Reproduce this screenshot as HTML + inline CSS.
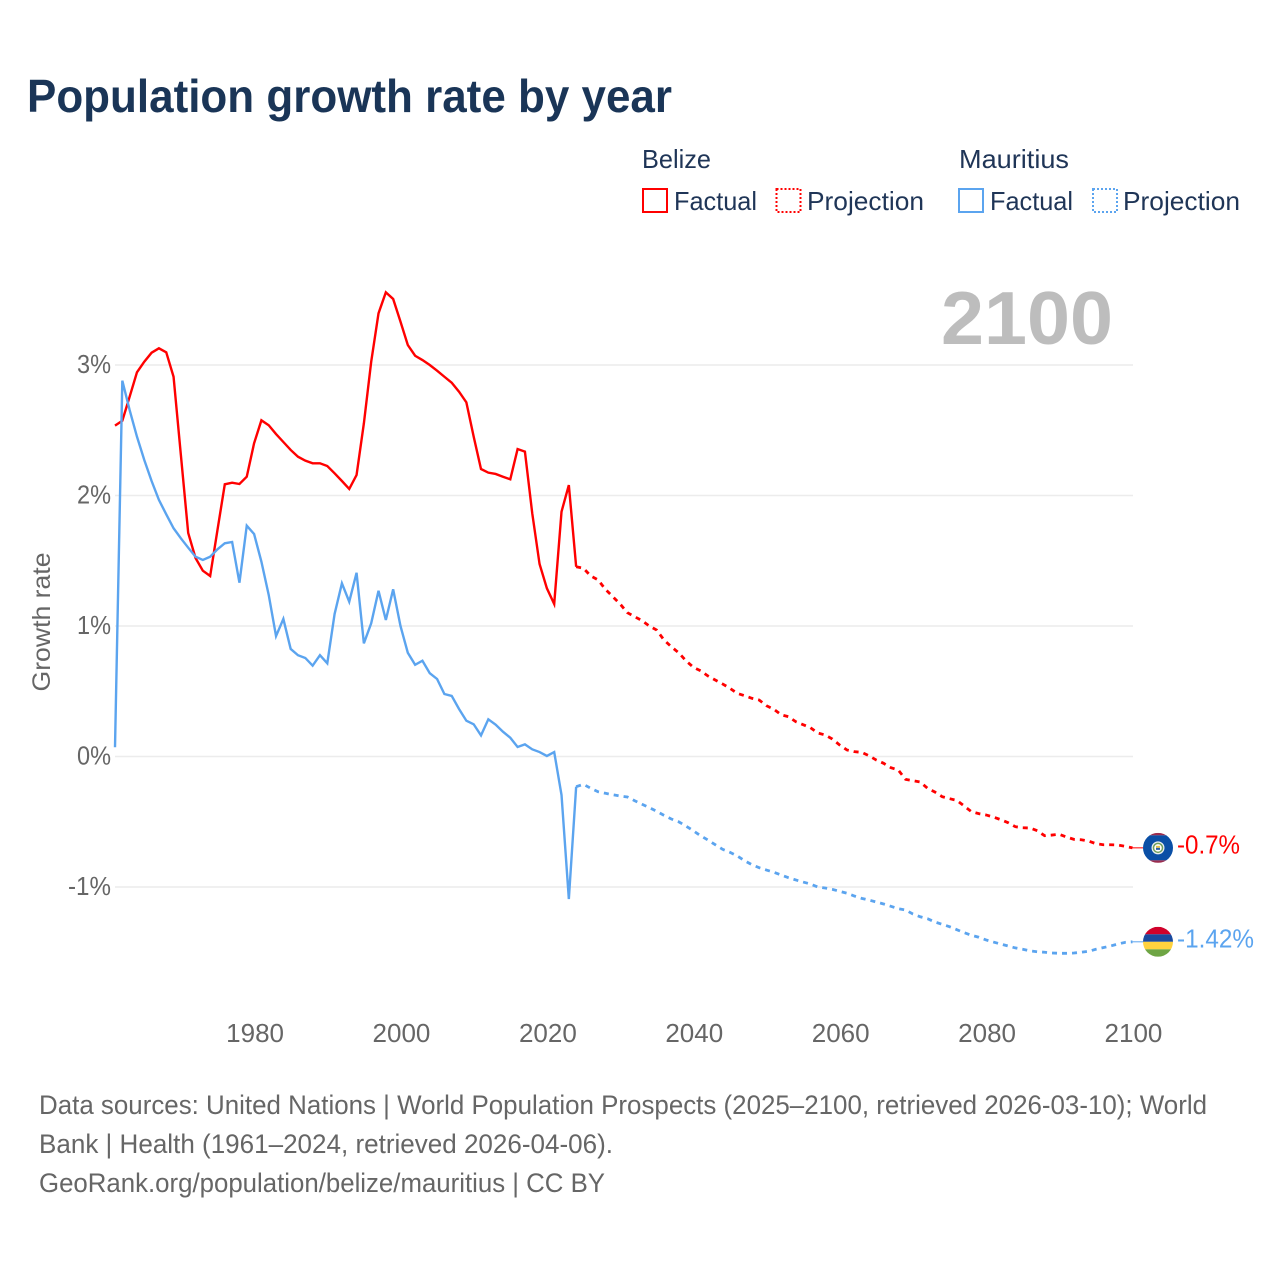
<!DOCTYPE html>
<html lang="en">
<head>
<meta charset="utf-8">
<title>Population growth rate by year</title>
<style>
html,body{margin:0;padding:0;background:#fff;}
svg{display:block;font-family:"Liberation Sans",sans-serif;}
</style>
</head>
<body>
<svg id="chart" xmlns="http://www.w3.org/2000/svg" width="1280" height="1280" viewBox="0 0 1280 1280">
  <rect x="0" y="0" width="1280" height="1280" fill="#ffffff"/>
  <text x="27" y="112" font-size="46" font-weight="700" fill="#1a3557" textLength="645" lengthAdjust="spacingAndGlyphs">Population growth rate by year</text>

  <g font-size="26" fill="#1f3557">
    <text x="642" y="168" textLength="69" lengthAdjust="spacingAndGlyphs">Belize</text>
    <rect x="643" y="189" width="24" height="23" fill="none" stroke="#ff0000" stroke-width="2"/>
    <text x="674" y="210" textLength="83" lengthAdjust="spacingAndGlyphs">Factual</text>
    <rect x="776.5" y="189" width="24" height="23" fill="none" stroke="#ff0000" stroke-width="2" stroke-dasharray="2 2"/>
    <text x="807" y="210" textLength="117" lengthAdjust="spacingAndGlyphs">Projection</text>
    <text x="959" y="168" textLength="110" lengthAdjust="spacingAndGlyphs">Mauritius</text>
    <rect x="959" y="189" width="24" height="23" fill="none" stroke="#5ba4ef" stroke-width="2"/>
    <text x="990" y="210" textLength="83" lengthAdjust="spacingAndGlyphs">Factual</text>
    <rect x="1093" y="189" width="24" height="23" fill="none" stroke="#5ba4ef" stroke-width="2" stroke-dasharray="2 2"/>
    <text x="1123" y="210" textLength="117" lengthAdjust="spacingAndGlyphs">Projection</text>
  </g>

  <text x="41" y="622" font-size="25" fill="#666666" text-anchor="middle" transform="rotate(-90 41 622) translate(0 9)" textLength="139" lengthAdjust="spacingAndGlyphs">Growth rate</text>

  <g id="grid"></g>
  <g id="yticks"></g>
  <g id="xticks"></g>

  <text x="1113" y="344" font-size="75" font-weight="700" fill="#bdbdbd" text-anchor="end" textLength="172" lengthAdjust="spacingAndGlyphs">2100</text>

  <g id="series"></g>
  <g id="ends"></g>

  <g font-size="27" fill="#666666">
    <text x="39" y="1114" textLength="1168" lengthAdjust="spacingAndGlyphs">Data sources: United Nations | World Population Prospects (2025–2100, retrieved 2026-03-10); World</text>
    <text x="39" y="1153" textLength="574" lengthAdjust="spacingAndGlyphs">Bank | Health (1961–2024, retrieved 2026-04-06).</text>
    <text x="39" y="1192" textLength="566" lengthAdjust="spacingAndGlyphs">GeoRank.org/population/belize/mauritius | CC BY</text>
  </g>
</svg>
<script>
const xTickYears = [1980, 2000, 2020, 2040, 2060, 2080, 2100];
const yTickValues = [3, 2, 1, 0, -1];
const yTickLabels = ["3%", "2%", "1%", "0%", "-1%"];
const factualStartYear = 1961;
const projectionStartYear = 2024;

const belizeFactual = [2.535,2.573,2.757,2.944,3.025,3.094,3.128,3.097,2.910,2.310,1.713,1.521,1.424,1.383,1.736,2.086,2.098,2.088,2.144,2.400,2.576,2.538,2.471,2.410,2.349,2.297,2.267,2.247,2.247,2.226,2.170,2.111,2.050,2.157,2.553,3.025,3.396,3.557,3.506,3.332,3.153,3.071,3.038,3.000,2.956,2.910,2.864,2.795,2.714,2.451,2.203,2.175,2.165,2.144,2.124,2.356,2.336,1.864,1.475,1.289,1.169,1.876,2.080,1.454];
const belizeProjection = [1.454,1.442,1.383,1.353,1.281,1.225,1.169,1.102,1.071,1.041,1.000,0.969,0.893,0.841,0.795,0.734,0.684,0.657,0.617,0.586,0.556,0.523,0.484,0.466,0.446,0.433,0.389,0.362,0.320,0.305,0.267,0.244,0.221,0.180,0.165,0.134,0.088,0.050,0.037,0.032,0.006,-0.027,-0.052,-0.086,-0.103,-0.175,-0.185,-0.195,-0.244,-0.272,-0.308,-0.323,-0.336,-0.379,-0.423,-0.438,-0.448,-0.464,-0.484,-0.507,-0.538,-0.546,-0.548,-0.569,-0.607,-0.602,-0.596,-0.617,-0.635,-0.638,-0.648,-0.668,-0.676,-0.676,-0.678,-0.688,-0.700];
const mauritiusFactual = [0.071,2.880,2.655,2.451,2.272,2.111,1.966,1.856,1.749,1.672,1.600,1.531,1.506,1.531,1.588,1.634,1.644,1.332,1.769,1.705,1.493,1.238,0.923,1.054,0.824,0.776,0.755,0.696,0.776,0.714,1.092,1.327,1.186,1.408,0.867,1.021,1.270,1.046,1.281,1.000,0.795,0.703,0.734,0.638,0.594,0.479,0.464,0.364,0.274,0.247,0.162,0.285,0.244,0.190,0.144,0.073,0.093,0.055,0.034,0.004,0.034,-0.295,-1.092,-0.231];
const mauritiusProjection = [-0.231,-0.213,-0.244,-0.270,-0.282,-0.293,-0.303,-0.310,-0.339,-0.366,-0.392,-0.420,-0.451,-0.479,-0.500,-0.533,-0.569,-0.607,-0.640,-0.676,-0.711,-0.734,-0.762,-0.798,-0.829,-0.852,-0.870,-0.887,-0.908,-0.929,-0.946,-0.962,-0.977,-1.000,-1.008,-1.018,-1.033,-1.048,-1.069,-1.087,-1.100,-1.115,-1.130,-1.148,-1.166,-1.176,-1.207,-1.228,-1.243,-1.268,-1.286,-1.304,-1.327,-1.350,-1.370,-1.385,-1.406,-1.422,-1.437,-1.452,-1.467,-1.477,-1.490,-1.496,-1.500,-1.506,-1.508,-1.508,-1.506,-1.500,-1.493,-1.477,-1.465,-1.452,-1.437,-1.424,-1.420];
const belizeEndLabel = "-0.7%";
const mauritiusEndLabel = "-1.42%";

const NS = "http://www.w3.org/2000/svg";
const RED = "#ff0000";
const BLUE = "#5ba4ef";
function xScale(year) { return 115 + (year - 1961) * 7.32; }
function yScale(value) { return 756.5 - value * 130.5; }
function svgEl(tag, attrs) {
  const el = document.createElementNS(NS, tag);
  for (const k in attrs) el.setAttribute(k, attrs[k]);
  return el;
}
function linePath(values, startYear) {
  return values.map(function (v, i) {
    return (i ? "L" : "M") + xScale(startYear + i).toFixed(2) + " " + yScale(v).toFixed(2);
  }).join(" ");
}

const grid = document.getElementById("grid");
const yticks = document.getElementById("yticks");
yTickValues.forEach(function (v, i) {
  const line = svgEl("line", {x1: 115, x2: 1133, y1: yScale(v), y2: yScale(v), stroke: "#ececec", "stroke-width": 1.5});
  
  
  grid.appendChild(line);
  const label = svgEl("text", {x: 111, y: yScale(v) + 8, "text-anchor": "end", "font-size": 26, fill: "#666666", textLength: v < 0 ? 43 : 34, lengthAdjust: "spacingAndGlyphs"});
  
  
  label.textContent = yTickLabels[i];
  yticks.appendChild(label);
});

const xticks = document.getElementById("xticks");
xTickYears.forEach(function (year) {
  const label = svgEl("text", {x: xScale(year) + 1, y: 1042, "text-anchor": "middle", "font-size": 26, fill: "#666666"});
  
  
  label.textContent = year;
  xticks.appendChild(label);
});

const seriesGroup = document.getElementById("series");
function addLine(values, startYear, color, dashed, name) {
  const attrs = {d: linePath(values, startYear), fill: "none", stroke: color, "stroke-width": dashed ? 2.8 : 2.4, "stroke-linejoin": "miter"};
  if (dashed) attrs["stroke-dasharray"] = "5 5";
  const path = svgEl("path", attrs);
  
  
  seriesGroup.appendChild(path);
}
addLine(belizeFactual, factualStartYear, RED, false, "line-belize-factual");
addLine(belizeProjection, projectionStartYear, RED, true, "line-belize-projection");
addLine(mauritiusFactual, factualStartYear, BLUE, false, "line-mauritius-factual");
addLine(mauritiusProjection, projectionStartYear, BLUE, true, "line-mauritius-projection");

const ends = document.getElementById("ends");
function addEnd(values, color, text, textW, bands, name) {
  const last = values[values.length - 1];
  const cy = yScale(last);
  const cx = 1158;
  const lastYear = projectionStartYear + values.length - 1;
  const lead = svgEl("line", {x1: xScale(lastYear), x2: 1143, y1: cy, y2: cy, stroke: color, "stroke-width": 1});
  
  
  ends.appendChild(lead);
  const clipId = name + "-clip";
  const clip = svgEl("clipPath", {id: clipId});
  clip.appendChild(svgEl("circle", {cx: cx, cy: cy, r: 15}));
  ends.appendChild(clip);
  const flag = svgEl("g", {"clip-path": "url(#" + clipId + ")"});
  
  
  let top = cy - 15;
  bands.forEach(function (b) {
    flag.appendChild(svgEl("rect", {x: cx - 15, y: top, width: 30, height: b[0], fill: b[1]}));
    top += b[0];
  });
  if (name === "belize") {
    flag.appendChild(svgEl("circle", {cx: cx, cy: cy, r: 6.5, fill: "#e8eef0"}));
    flag.appendChild(svgEl("circle", {cx: cx, cy: cy, r: 4.5, fill: "#ffffff", stroke: "#6f9f5c", "stroke-width": 1.5}));
    flag.appendChild(svgEl("rect", {x: cx - 2, y: cy - 2, width: 4, height: 2, fill: "#e8c547"}));
    flag.appendChild(svgEl("rect", {x: cx - 2, y: cy, width: 4, height: 2, fill: "#2a5ea8"}));
  }
  ends.appendChild(flag);
  const label = svgEl("text", {x: 1177, y: cy + 5.5, "font-size": 26, fill: color, textLength: textW, lengthAdjust: "spacingAndGlyphs"});
  
  
  label.textContent = text;
  ends.appendChild(label);
}
addEnd(belizeProjection, RED, belizeEndLabel, 63, [[2.5, "#9b2d4e"], [25, "#0a4fa6"], [2.5, "#9b2d4e"]], "belize");
addEnd(mauritiusProjection, BLUE, mauritiusEndLabel, 77, [[7.5, "#d0022b"], [7.5, "#1a4a9f"], [7.5, "#ffd23f"], [7.5, "#6ea544"]], "mauritius");
</script>
</body>
</html>
